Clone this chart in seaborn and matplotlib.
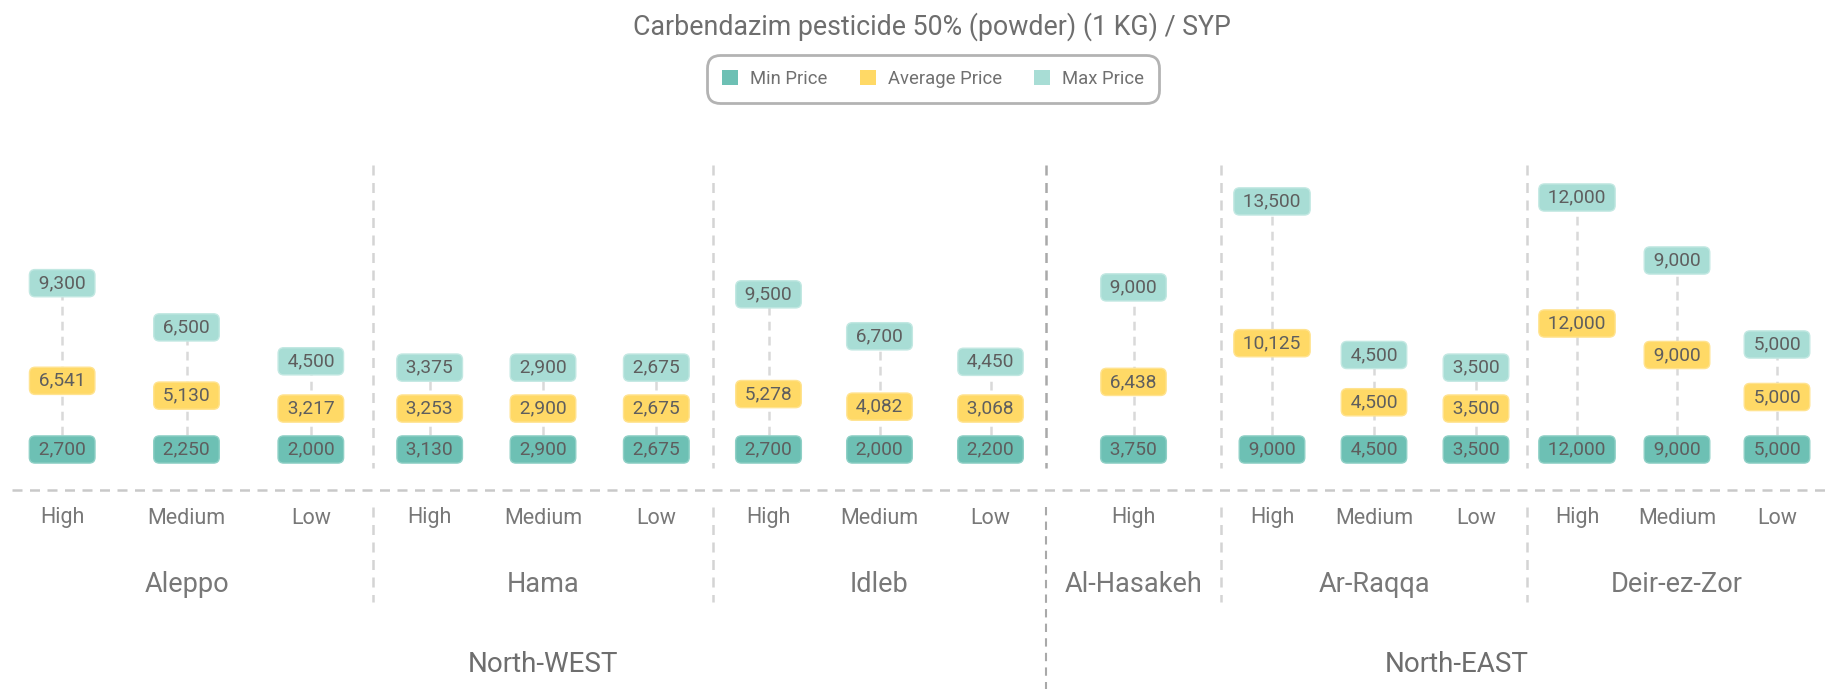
import numpy as np
import pandas as pd
import matplotlib
matplotlib.use("Agg")
import matplotlib.pyplot as plt
import matplotlib.transforms as mtransforms
from matplotlib.patches import Patch
import seaborn as sns

# ---------------- data ----------------
title = "Carbendazim pesticide 50% (powder) (1 KG) / SYP"
super_regions = ["North-WEST", "North-EAST"]
regions = ["Aleppo", "Hama", "Idleb", "Al-Hasakeh", "Ar-Raqqa", "Deir-ez-Zor"]
region_super = [0, 0, 0, 1, 1, 1]
region_levels = [
    ["High", "Medium", "Low"],
    ["High", "Medium", "Low"],
    ["High", "Medium", "Low"],
    ["High"],
    ["High", "Medium", "Low"],
    ["High", "Medium", "Low"],
]
min_price = [2700, 2250, 2000, 3130, 2900, 2675, 2700, 2000, 2200, 3750,
             9000, 4500, 3500, 12000, 9000, 5000]
avg_price = [6541, 5130, 3217, 3253, 2900, 2675, 5278, 4082, 3068, 6438,
             10125, 4500, 3500, 12000, 9000, 5000]
max_price = [9300, 6500, 4500, 3375, 2900, 2675, 9500, 6700, 4450, 9000,
             13500, 4500, 3500, 12000, 9000, 5000]
series_names = ["Min Price", "Average Price", "Max Price"]

# ---------------- layout / style ----------------
W, H = 1827, 689
region_share = [373, 340, 333, 175, 306, 300]   # horizontal share of each region
GAP = 3900            # minimum spacing between stacked labels (SYP units)
PX_PER_SYP = 0.0105   # vertical scale
ZERO_FROM_TOP = 449.5
colors = {"Min Price": "#6dc0b4", "Average Price": "#ffd966", "Max Price": "#a8ddd5"}
edge = {"Min Price": "#8fd0c6", "Average Price": "#ffe38f", "Max Price": "#c2e8e2"}
txt_box = "#5e5e5e"
txt_axis = "#787878"

sns.set_theme(style="white")
plt.rcParams["font.family"] = ["Roboto", "DejaVu Sans"]

# column positions derived from the region structure
bounds = np.concatenate([[0], np.cumsum(region_share)]) * W / np.sum(region_share)
col_x, col_level, col_region = [], [], []
for r, levs in enumerate(region_levels):
    w = (bounds[r + 1] - bounds[r]) / len(levs)
    for i, lv in enumerate(levs):
        col_x.append(bounds[r] + (i + 0.5) * w)
        col_level.append(lv)
        col_region.append(r)
col_x = np.array(col_x)

# stacked label positions (min at base, average above, max on top)
mn = np.array(min_price, float)
av = np.array(avg_price, float)
mx = np.array(max_price, float)
y_min = np.zeros_like(mn)
y_avg = np.maximum(av, GAP)
y_max = y_avg + np.maximum(mx, GAP)

df = pd.DataFrame({
    "x": np.concatenate([col_x, col_x, col_x]),
    "pos": np.concatenate([y_min, y_avg, y_max]),
    "value": np.concatenate([mn, av, mx]),
    "series": np.repeat(series_names, len(col_x)),
})

fig = plt.figure(figsize=(W / 100, H / 100), dpi=100)
ax = fig.add_axes([0, 0, 1, 1])
ax.set_xlim(0, W)
bottom_px = H - ZERO_FROM_TOP
ax.set_ylim(-bottom_px / PX_PER_SYP, (H - bottom_px) / PX_PER_SYP)
ax.axis("off")

# connectors
ax.vlines(col_x, y_min, y_max, colors="#d9d9d9", linewidth=1.8,
          linestyles=(0, (3.5, 2.5)), zorder=1)

sns.scatterplot(data=df, x="x", y="pos", hue="series", palette=colors,
                marker="s", s=15, linewidth=0, legend=False, ax=ax, zorder=2)

# value boxes
for _, row in df.iterrows():
    s = row["series"]
    ax.text(row["x"], row["pos"], f" {int(row['value']):,} ", ha="center", va="center",
            fontsize=13.8, color=txt_box, zorder=5 if s == "Min Price" else 4,
            bbox=dict(boxstyle="round,pad=0.24,rounding_size=0.3",
                      fc=colors[s], ec=edge[s], lw=1.0))

blend = mtransforms.blended_transform_factory(ax.transData, ax.transAxes)

def fy(px_from_top):
    return 1 - px_from_top / H

# baseline
ax.plot([12, W], [fy(489.5)] * 2, transform=blend, color="#c9c9c9", lw=1.8,
        linestyle=(0, (4, 3)), zorder=0)

# region dividers
for r in range(1, len(regions)):
    b = bounds[r]
    major = region_super[r] != region_super[r - 1]
    c = "#a9a9a9" if major else "#d4d4d4"
    ax.plot([b, b], [fy(165), fy(468)], transform=blend, color=c, lw=1.8,
            linestyle=(0, (4, 3)), zorder=0)
    ax.plot([b, b], [fy(507), fy(H if major else 602)], transform=blend, color=c,
            lw=1.8 if not major else 1.5, linestyle=(0, (4, 3)), zorder=0)

# level labels
for x, lv in zip(col_x, col_level):
    ax.text(x, fy(518), lv, transform=blend, ha="center", va="center",
            fontsize=15.5, color=txt_axis)

# region labels
for r, name in enumerate(regions):
    ax.text((bounds[r] + bounds[r + 1]) / 2, fy(585), name, transform=blend,
            ha="center", va="center", fontsize=19.5, color=txt_axis)

# super region labels
for sidx, name in enumerate(super_regions):
    rs = [r for r in range(len(regions)) if region_super[r] == sidx]
    cx = (bounds[rs[0]] + bounds[rs[-1] + 1]) / 2
    ax.text(cx + 20, fy(664), name, transform=blend, ha="center", va="center",
            fontsize=20, color="#6e6e6e")

# title
fig.text(932 / W, fy(27), title, ha="center", va="center", fontsize=19.3, color="#6e6e6e")

# legend
handles = [Patch(facecolor=colors[s], edgecolor="none") for s in series_names]
leg = fig.legend(handles, series_names, loc="center", bbox_to_anchor=(933 / W, fy(79)),
                 ncol=3, frameon=True, fancybox=True, fontsize=13.3,
                 handlelength=0.87, handleheight=0.87, handletextpad=0.65,
                 columnspacing=1.75, borderpad=0.8, labelcolor="#707070")
fr = leg.get_frame()
fr.set_edgecolor("#b3b3b3")
fr.set_linewidth(2)
fr.set_facecolor("white")
fr.set_alpha(1)
fr.set_boxstyle("round,pad=0,rounding_size=0.7")

fig.savefig("out.png", dpi=100)
